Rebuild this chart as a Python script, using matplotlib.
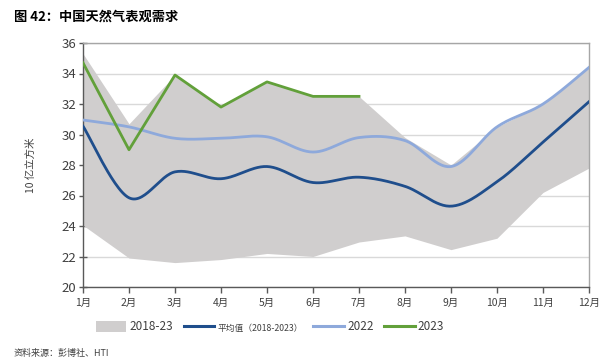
import numpy as np
import matplotlib
matplotlib.use("Agg")
import matplotlib.pyplot as plt
from matplotlib.lines import Line2D
from matplotlib.patches import Patch

plt.rcParams['font.family'] = ['Noto Sans CJK SC', 'DejaVu Sans']

months = ['1月', '2月', '3月', '4月', '5月', '6月', '7月', '8月', '9月', '10月', '11月', '12月']
band_low = [24.05, 21.9, 21.6, 21.8, 22.2, 22.0, 22.95, 23.35, 22.45, 23.2, 26.2, 27.8]
band_high = [35.3, 30.7, 33.9, 31.8, 33.45, 32.5, 32.5, 29.8, 28.0, 30.5, 32.0, 34.4]
avg_2018_2023 = [30.55, 25.85, 27.55, 27.1, 27.9, 26.85, 27.2, 26.6, 25.3, 26.9, 29.5, 32.15]
y2022 = [30.95, 30.5, 29.75, 29.75, 29.85, 28.85, 29.8, 29.6, 27.9, 30.5, 32.0, 34.4]
y2023 = [34.7, 29.0, 33.9, 31.8, 33.45, 32.5, 32.5]
yticks = [20, 22, 24, 26, 28, 30, 32, 34, 36]


def smooth(xs, ys, n=30):
    """Excel-style smoothed line (cubic Bezier through points)."""
    xs = np.asarray(xs, float)
    ys = np.asarray(ys, float)
    px, py = [], []
    m = len(xs)
    for i in range(m - 1):
        x0, y0 = (xs[i - 1], ys[i - 1]) if i > 0 else (xs[i], ys[i])
        x1, y1 = xs[i], ys[i]
        x2, y2 = xs[i + 1], ys[i + 1]
        x3, y3 = (xs[i + 2], ys[i + 2]) if i + 2 < m else (xs[i + 1], ys[i + 1])
        c1x, c1y = x1 + (x2 - x0) / 6, y1 + (y2 - y0) / 6
        c2x, c2y = x2 - (x3 - x1) / 6, y2 - (y3 - y1) / 6
        t = np.linspace(0, 1, n)
        bx = (1 - t) ** 3 * x1 + 3 * (1 - t) ** 2 * t * c1x + 3 * (1 - t) * t ** 2 * c2x + t ** 3 * x2
        by = (1 - t) ** 3 * y1 + 3 * (1 - t) ** 2 * t * c1y + 3 * (1 - t) * t ** 2 * c2y + t ** 3 * y2
        px.extend(bx)
        py.extend(by)
    return np.array(px), np.array(py)


fig = plt.figure(figsize=(6.09, 3.64), dpi=100)
ax = fig.add_axes([83 / 609, 1 - 287 / 364, (589 - 83) / 609, (287 - 43) / 364])

x = np.arange(len(months))
c_band = '#D0CECE'
c_avg = '#1F4E8C'
c_22 = '#8EA9DB'
c_23 = '#62A03A'
c_text = '#404040'

ax.fill_between(x, band_low, band_high, color=c_band, lw=0, zorder=1)
sx, sy = smooth(x, avg_2018_2023)
ax.plot(sx, sy, color=c_avg, lw=2.0, zorder=3)
sx, sy = smooth(x, y2022)
ax.plot(sx, sy, color=c_22, lw=2.0, zorder=3)
ax.plot(x[:len(y2023)], y2023, color=c_23, lw=2.0, zorder=4)

ax.set_xlim(0, len(months) - 1)
ax.set_ylim(20, 36)
ax.set_yticks(yticks)
ax.set_yticklabels([str(v) for v in yticks], fontsize=9.5, color=c_text)
ax.set_xticks(x)
ax.set_xticklabels(months, fontsize=7.5, color=c_text)
ax.grid(axis='y', color='#D9D9D9', lw=1, zorder=0)
ax.set_axisbelow(True)
ax.tick_params(axis='y', direction='inout', length=6, width=1, color='#595959', pad=2)
ax.tick_params(axis='x', direction='out', length=4, width=1, color='#595959', pad=4)
for s in ['left', 'bottom']:
    ax.spines[s].set_color('#595959')
    ax.spines[s].set_linewidth(1)
for s in ['top', 'right']:
    ax.spines[s].set_color('#A6A6A6')
    ax.spines[s].set_linewidth(1)

ax.set_ylabel('10 亿立方米', fontsize=7.5, color=c_text, labelpad=18)

handles = [Patch(facecolor=c_band, edgecolor='none'),
           Line2D([], [], color=c_avg, lw=2.2),
           Line2D([], [], color=c_22, lw=2.2),
           Line2D([], [], color=c_23, lw=2.2)]
labels = ['2018-23', '平均值（2018-2023）', '2022', '2023']
leg = fig.legend(handles, labels, loc='center', bbox_to_anchor=(270 / 609, 1 - 327 / 364), ncol=4,
                 frameon=False, fontsize=8.5, handlelength=2.6, handleheight=1.0,
                 columnspacing=0.9, handletextpad=0.25)
for i, t in enumerate(leg.get_texts()):
    t.set_color(c_text)
    if i == 1:
        t.set_fontsize(6.3)

fig.text(14 / 609, 1 - 17 / 364, '图 42：中国天然气表观需求', fontsize=9.5, fontweight='bold',
         color='#000000', ha='left', va='center')
fig.text(14 / 609, 1 - 353 / 364, '资料来源：彭博社、HTI', fontsize=6.5, color=c_text,
         ha='left', va='center')

fig.savefig('out.png', dpi=100)
